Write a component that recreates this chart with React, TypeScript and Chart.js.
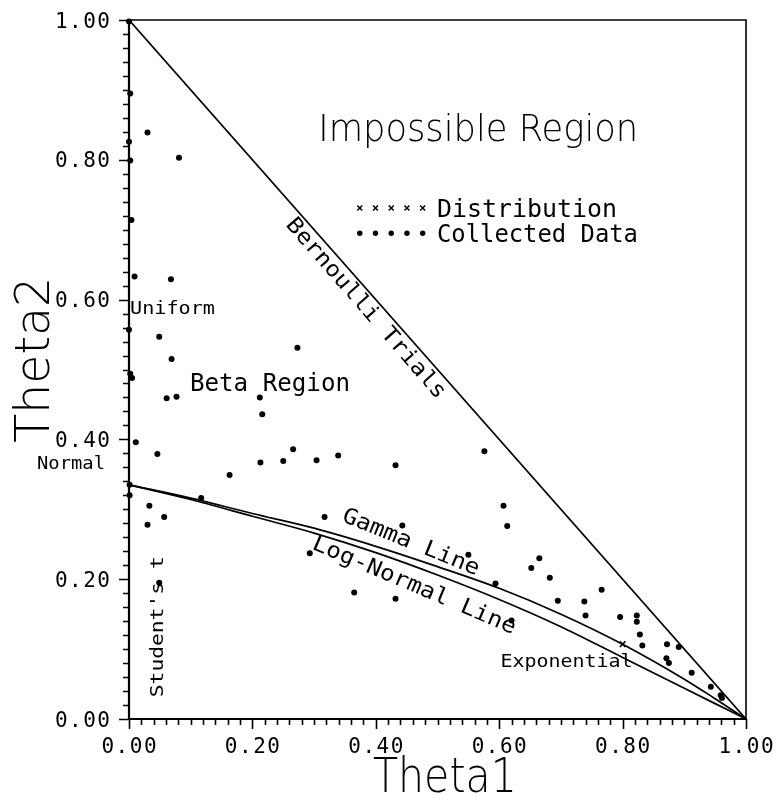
import React, { useEffect, useRef } from "react";
import { Chart, registerables } from "chart.js";

Chart.register(...registerables);

// ---- axis ticks ----
const tickValues = [0, 0.2, 0.4, 0.6, 0.8, 1.0];
const tickLabels = ["0.00", "0.20", "0.40", "0.60", "0.80", "1.00"];
const minorTickStep = 0.02;

// ---- reference lines ----
const bernoulliX = [0, 1];
const bernoulliY = [1, 0];

const curveX = [0, 0.1, 0.2, 0.3, 0.4, 0.5, 0.6, 0.7, 0.8, 0.9, 0.95, 1.0];
const gammaY = [0.335, 0.316, 0.294, 0.273, 0.247, 0.218, 0.187, 0.15, 0.107, 0.057, 0.029, 0];
const logNormalY = [0.335, 0.314, 0.29, 0.266, 0.238, 0.206, 0.171, 0.132, 0.088, 0.044, 0.022, 0];

// ---- distribution points ----
const distributionX = [0.8];
const distributionY = [0.107];

// ---- collected data ----
const collectedX = [
  0.0, 0.002, 0.03, 0.0, 0.002, 0.081, 0.004, 0.009, 0.068, 0.0,
  0.049, 0.069, 0.002, 0.005, 0.273, 0.061, 0.077, 0.212, 0.216, 0.011,
  0.046, 0.163, 0.213, 0.25, 0.266, 0.304, 0.339, 0.432, 0.576, 0.001,
  0.001, 0.033, 0.03, 0.057, 0.117, 0.049, 0.607, 0.613, 0.317, 0.443,
  0.293, 0.55, 0.594, 0.365, 0.432, 0.62, 0.652, 0.665, 0.682, 0.695,
  0.738, 0.74, 0.766, 0.796, 0.823, 0.823, 0.828, 0.832, 0.872, 0.891,
  0.871, 0.875, 0.912, 0.943, 0.959, 0.961,
];
const collectedY = [
  0.998, 0.895, 0.839, 0.826, 0.799, 0.803, 0.714, 0.633, 0.629, 0.557,
  0.547, 0.515, 0.494, 0.488, 0.531, 0.459, 0.461, 0.46, 0.436, 0.396,
  0.379, 0.349, 0.367, 0.369, 0.386, 0.37, 0.377, 0.363, 0.383, 0.335,
  0.32, 0.305, 0.278, 0.289, 0.316, 0.195, 0.305, 0.276, 0.289, 0.277,
  0.237, 0.235, 0.194, 0.181, 0.172, 0.141, 0.216, 0.23, 0.202, 0.169,
  0.168, 0.148, 0.185, 0.146, 0.148, 0.139, 0.121, 0.105, 0.107, 0.103,
  0.087, 0.08, 0.066, 0.046, 0.034, 0.03,
];

const MONO = "'DejaVu Sans Mono', monospace";
const SANS = "'DejaVu Sans', sans-serif";

type TextOpt = {
  size: number;
  width?: number;
  ls?: number;
  rot?: number;
  align?: "left" | "center" | "right";
  family?: string;
  weight?: string;
};

function drawText(ctx: CanvasRenderingContext2D, text: string, px: number, py: number, o: TextOpt) {
  const ls = o.ls ?? 0;
  ctx.save();
  ctx.translate(px, py);
  ctx.rotate(((o.rot ?? 0) * Math.PI) / 180);
  ctx.font = `${o.weight ?? "normal"} ${o.size}px ${o.family ?? MONO}`;
  (ctx as any).letterSpacing = `${ls}px`;
  ctx.textAlign = "left";
  ctx.textBaseline = "alphabetic";
  const w = ctx.measureText(text).width - ls;
  const sx = o.width ? o.width / w : 1;
  ctx.scale(sx, 1);
  const align = o.align ?? "center";
  const x0 = align === "center" ? -w / 2 : align === "right" ? -w : 0;
  ctx.fillStyle = "#000";
  ctx.fillText(text, x0, o.size * 0.36);
  ctx.restore();
}

const labels: { text: string; x: number; y: number; o: TextOpt }[] = [
  { text: "Impossible Region", x: 0.566, y: 0.847, o: { size: 38, width: 320, family: SANS, weight: "200" } },
  { text: "Distribution", x: 0.645, y: 0.731, o: { size: 24, width: 180 } },
  { text: "Collected Data", x: 0.662, y: 0.695, o: { size: 24, width: 201 } },
  { text: "Beta Region", x: 0.2285, y: 0.482, o: { size: 24, width: 160 } },
  { text: "Bernoulli Trials", x: 0.386, y: 0.589, o: { size: 22, width: 232, rot: 49 } },
  { text: "Gamma Line", x: 0.458, y: 0.255, o: { size: 22, width: 146, rot: 22 } },
  { text: "Log-Normal Line", x: 0.4635, y: 0.193, o: { size: 22, width: 219, rot: 23 } },
  { text: "Uniform", x: 0.0705, y: 0.588, o: { size: 18, width: 85 } },
  { text: "Normal", x: -0.094, y: 0.366, o: { size: 17, width: 68 } },
  { text: "Student's t", x: 0.045, y: 0.132, o: { size: 18, width: 141, rot: -90 } },
  { text: "Exponential", x: 0.709, y: 0.084, o: { size: 18, width: 132 } },
  { text: "Theta1", x: 0.512, y: -0.08, o: { size: 48, width: 144, family: SANS, weight: "200" } },
  { text: "Theta2", x: -0.157, y: 0.514, o: { size: 48, width: 166, rot: -90, family: SANS, weight: "200" } },
];

const legendMarkerStart = 0.374;
const legendMarkerStep = 0.0255;
const legendMarkerCount = 5;
const legendDistY = 0.731;
const legendDataY = 0.695;

const framePlugin = {
  id: "frame",
  beforeDatasetsDraw(chart: any) {
    const { ctx, chartArea: a, scales } = chart;
    const xs = scales.x;
    const ys = scales.y;
    ctx.save();
    ctx.strokeStyle = "#000";
    ctx.lineWidth = 1.6;
    ctx.beginPath();
    ctx.moveTo(a.left, a.top);
    ctx.lineTo(a.right, a.top);
    ctx.lineTo(a.right, a.bottom);
    ctx.stroke();
    ctx.lineWidth = 2.2;
    ctx.beginPath();
    ctx.moveTo(a.left, a.top - 1);
    ctx.lineTo(a.left, a.bottom);
    ctx.lineTo(a.right + 1, a.bottom);
    ctx.stroke();
    ctx.lineWidth = 1.6;
    ctx.beginPath();
    const n = Math.round(1 / minorTickStep);
    for (let i = 0; i <= n; i++) {
      const v = i * minorTickStep;
      const major = i % 10 === 0;
      const len = major ? 10 : 6;
      const px = Math.round(xs.getPixelForValue(v)) + 0.5;
      ctx.moveTo(px, a.bottom);
      ctx.lineTo(px, a.bottom + len);
      const py = Math.round(ys.getPixelForValue(v)) + 0.5;
      ctx.moveTo(a.left, py);
      ctx.lineTo(a.left - len, py);
    }
    ctx.stroke();
    ctx.restore();

    tickValues.forEach((v, i) => {
      drawText(ctx, tickLabels[i], xs.getPixelForValue(v), a.bottom + 26, { size: 21, ls: 1.5, align: "center" });
      drawText(ctx, tickLabels[i], a.left - 19, ys.getPixelForValue(v), { size: 21, ls: 1.5, align: "right" });
    });
  },
  afterDatasetsDraw(chart: any) {
    const { ctx, scales } = chart;
    const xs = scales.x;
    const ys = scales.y;
    labels.forEach((l) => drawText(ctx, l.text, xs.getPixelForValue(l.x), ys.getPixelForValue(l.y), l.o));
    ctx.save();
    ctx.strokeStyle = "#000";
    ctx.fillStyle = "#000";
    ctx.lineWidth = 1.5;
    for (let i = 0; i < legendMarkerCount; i++) {
      const px = xs.getPixelForValue(legendMarkerStart + i * legendMarkerStep);
      const py = ys.getPixelForValue(legendDistY);
      ctx.beginPath();
      ctx.moveTo(px - 2.5, py - 2.5);
      ctx.lineTo(px + 2.5, py + 2.5);
      ctx.moveTo(px + 2.5, py - 2.5);
      ctx.lineTo(px - 2.5, py + 2.5);
      ctx.stroke();
      const qy = ys.getPixelForValue(legendDataY);
      ctx.beginPath();
      ctx.arc(px, qy, 2.7, 0, Math.PI * 2);
      ctx.fill();
    }
    ctx.restore();
  },
};

export default function App() {
  const ref = useRef<HTMLCanvasElement | null>(null);
  useEffect(() => {
    if (!ref.current) return;
    const chart = new Chart(ref.current, {
      type: "scatter",
      data: {
        datasets: [
          {
            label: "Bernoulli",
            data: bernoulliX.map((x, i) => ({ x, y: bernoulliY[i] })),
            showLine: true,
            borderColor: "#000",
            borderWidth: 1.7,
            pointRadius: 0,
          },
          {
            label: "Gamma",
            data: curveX.map((x, i) => ({ x, y: gammaY[i] })),
            showLine: true,
            borderColor: "#000",
            borderWidth: 1.7,
            pointRadius: 0,
            cubicInterpolationMode: "monotone",
          },
          {
            label: "LogNormal",
            data: curveX.map((x, i) => ({ x, y: logNormalY[i] })),
            showLine: true,
            borderColor: "#000",
            borderWidth: 1.7,
            pointRadius: 0,
            cubicInterpolationMode: "monotone",
          },
          {
            label: "Collected Data",
            data: collectedX.map((x, i) => ({ x, y: collectedY[i] })),
            showLine: false,
            pointRadius: 3,
            pointBackgroundColor: "#000",
            pointBorderWidth: 0,
            clip: false,
          },
          {
            label: "Distribution",
            data: distributionX.map((x, i) => ({ x, y: distributionY[i] })),
            showLine: false,
            pointStyle: "crossRot",
            pointRadius: 4,
            pointBorderColor: "#000",
            pointBorderWidth: 1.6,
            clip: false,
          },
        ] as any,
      },
      options: {
        responsive: false,
        animation: false,
        devicePixelRatio: 1,
        layout: { padding: { left: 129, top: 20, right: 31, bottom: 82 } },
        plugins: { legend: { display: false }, tooltip: { enabled: false } },
        scales: {
          x: { type: "linear", min: 0, max: 1, display: false },
          y: { type: "linear", min: 0, max: 1, display: false },
        },
      },
      plugins: [framePlugin],
    });
    return () => chart.destroy();
  }, []);
  return (
    <div style={{ position: "absolute", left: 0, top: 0, width: 777, height: 801, overflow: "hidden" }}>
      <canvas ref={ref} width={777} height={801} style={{ display: "block" }} />
    </div>
  );
}
